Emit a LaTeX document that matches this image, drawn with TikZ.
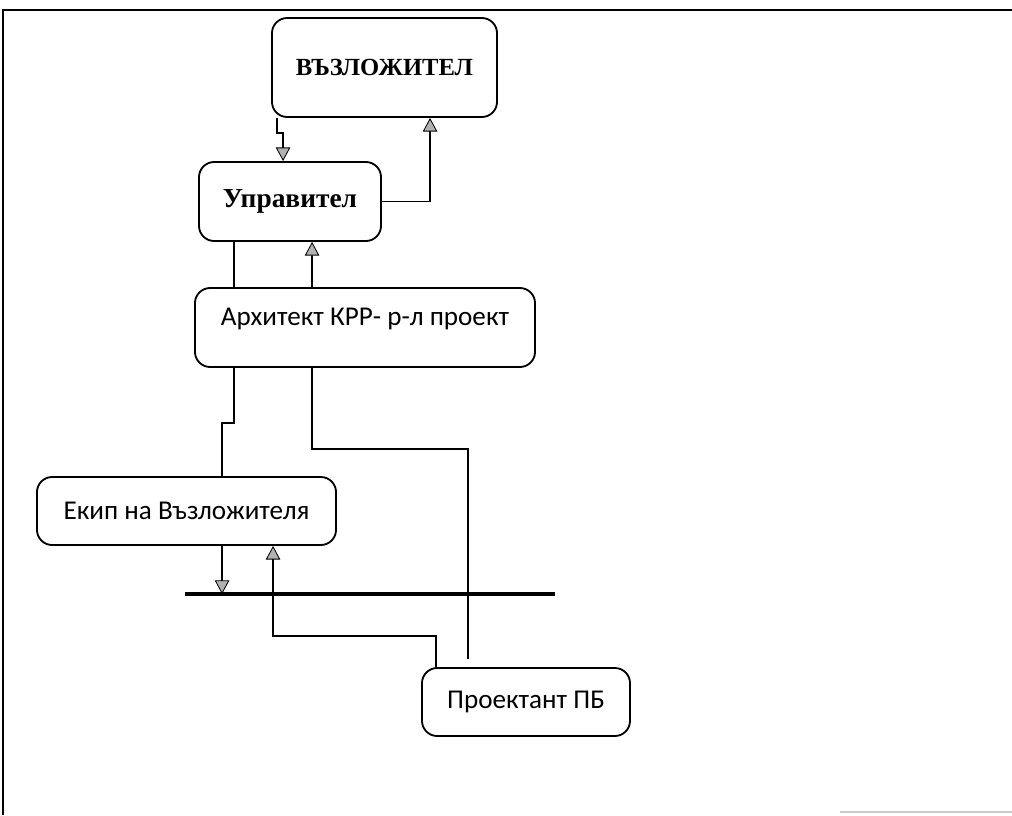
\documentclass[tikz,border=0pt]{standalone}
\usepackage{fontspec}
\setmainfont{Liberation Serif}
\newfontfamily\calfont{Carlito}
\usetikzlibrary{%
    arrows.meta,
    calc,
    positioning
}
\tikzset{headarrow/.style = {-{Triangle[length=.34cm,width=.36cm,fill=gray!60,line width=.6pt]}}}
\tikzset{orgbox/.style = {draw,rounded corners=.38cm,line width=1.3pt,inner sep=0pt}}
\newcommand{\sanstext}{\calfont\fontsize{19.3}{22}\selectfont}

\begin{document}
\begin{tikzpicture}[x=.025cm,y=-.025cm,line width=1.2pt]
    \useasboundingbox (0,0) rectangle (1012,815);
    % scanned frame
    \draw[line width=1.6pt] (3,10) -- (3,815);
    \draw[line width=1.6pt] (2,10) -- (1012,10);
    \draw[gray!40,line width=.8pt] (840,812) -- (1012,812);

    \node[orgbox,minimum width=5.625cm,minimum height=2.475cm] (vaz) at (384.5,67.5)
        {\fontsize{17.5}{20}\selectfont\bfseries ВЪЗЛОЖИТЕЛ};
    \node[orgbox,minimum width=4.55cm,minimum height=1.975cm] (upr) at (290,201.5)
        {\fontsize{19.5}{22}\selectfont\bfseries Управител};
    \node[orgbox,minimum width=8.5cm,minimum height=1.975cm,text height=.45cm,text depth=.57cm] (arch) at (365,327.5)
        {\sanstext Архитект КРР- р-л проект};
    \node[orgbox,minimum width=7.475cm,minimum height=1.7cm] (ekip) at (186.5,511)
        {\sanstext Екип на Възложителя};
    \node[orgbox,minimum width=5.2cm,minimum height=1.7cm] (proj) at (526,702)
        {\sanstext Проектант ПБ};

    % bar under the team
    \coordinate (barl) at (185,594);
    \coordinate (barr) at (555,594);
    \draw[line width=2.2pt] (barl) -- (barr);
    \coordinate (projtop) at ($(proj.north west)+(47,-8)$);
    \coordinate (ekipout) at ($(ekip.south west)+(186,0)$);

    \draw[headarrow] ($(vaz.south west)+(6,0)$) -- ++(0,15) -| ($(upr.north west)+(85,0)$);
    \draw[headarrow] (upr.east) -| ($(vaz.south west)+(159,0)$);
    \draw ($(upr.south west)+(36,0)$) -- ($(arch.north west)+(40,0)$);
    \draw[headarrow] ($(arch.north west)+(118,0)$) -- ($(upr.south west)+(114,0)$);

    \draw ($(arch.south west)+(40,0)$) -- ++(0,55) -| ($(ekip.north west)+(186,0)$);
    \draw ($(arch.south west)+(118,0)$) -- ++(0,81) -| (projtop);

    \draw[headarrow] (ekipout) -- (ekipout |- barl);
    \draw[headarrow] ($(proj.north west)+(15,0)$) -- ++(0,-31) -| ($(ekip.south west)+(237,0)$);
\end{tikzpicture}
\end{document}
